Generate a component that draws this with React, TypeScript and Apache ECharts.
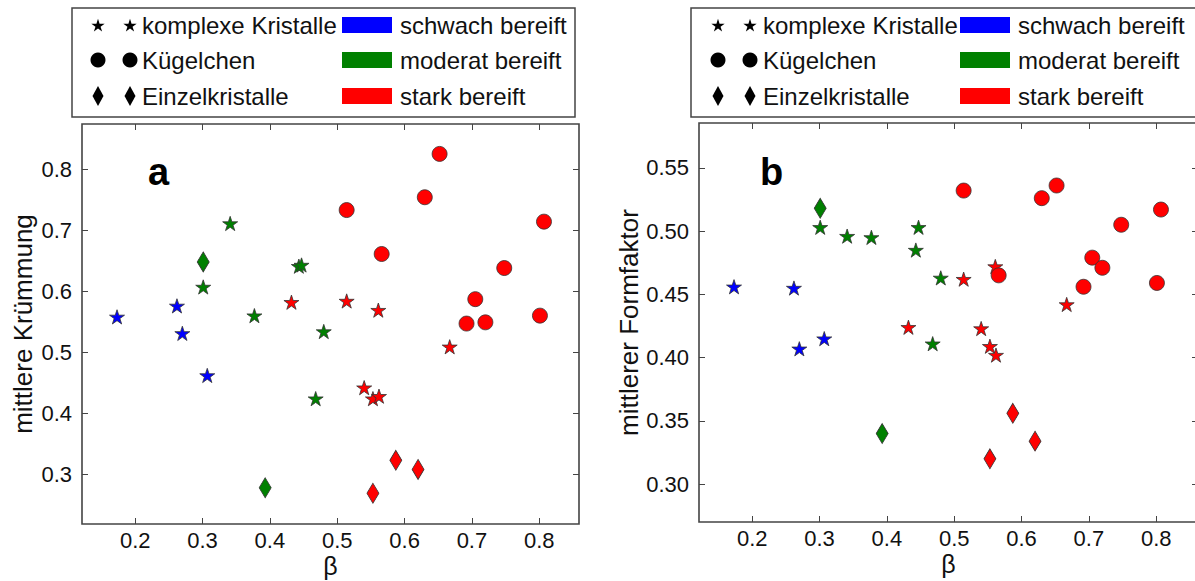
import React, { useEffect, useRef } from "react";
import * as echarts from "echarts";

// Sample groups: β with mean curvature (panel a) and mean form factor (panel b)
const blueStarBeta = [0.173, 0.262, 0.27, 0.307];
const blueStarCurv = [0.558, 0.576, 0.531, 0.462];
const blueStarForm = [0.456, 0.455, 0.407, 0.415];

const greenStarBeta = [0.301, 0.341, 0.377, 0.443, 0.447, 0.468, 0.48];
const greenStarCurv = [0.607, 0.711, 0.56, 0.641, 0.643, 0.424, 0.534];
const greenStarForm = [0.503, 0.496, 0.495, 0.485, 0.503, 0.411, 0.463];

const greenDiamondBeta = [0.301, 0.393];
const greenDiamondCurv = [0.648, 0.278];
const greenDiamondForm = [0.518, 0.34];

const redStarBeta = [0.432, 0.514, 0.54, 0.553, 0.561, 0.562, 0.667];
const redStarCurv = [0.582, 0.584, 0.442, 0.424, 0.569, 0.428, 0.509];
const redStarForm = [0.424, 0.462, 0.423, 0.409, 0.472, 0.402, 0.442];

const redDiamondBeta = [0.553, 0.587, 0.62];
const redDiamondCurv = [0.269, 0.323, 0.308];
const redDiamondForm = [0.32, 0.356, 0.334];

const redCircleBeta = [0.514, 0.566, 0.63, 0.652, 0.692, 0.705, 0.72, 0.748, 0.801, 0.807];
const redCircleCurv = [0.733, 0.661, 0.754, 0.825, 0.547, 0.587, 0.549, 0.638, 0.56, 0.714];
const redCircleForm = [0.532, 0.465, 0.526, 0.536, 0.456, 0.479, 0.471, 0.505, 0.459, 0.517];

// Tick values
const betaTicks = [0.2, 0.3, 0.4, 0.5, 0.6, 0.7, 0.8];
const curvTicks = [0.3, 0.4, 0.5, 0.6, 0.7, 0.8];
const formTicks = [0.3, 0.35, 0.4, 0.45, 0.5, 0.55];

// Legend entries
const shapeLabels = ["komplexe Kristalle", "Kügelchen", "Einzelkristalle"];
const frostLabels = ["schwach bereift", "moderat bereift", "stark bereift"];
const frostColors = ["#0000ff", "#008000", "#ff0000"];

const FONT = "'Liberation Sans', Arial, Helvetica, sans-serif";
const FRAME = "#444444";

function starPoints(cx: number, cy: number, R: number): number[][] {
  const pts: number[][] = [];
  for (let i = 0; i < 10; i++) {
    const a = -Math.PI / 2 + (i * Math.PI) / 5;
    const r = i % 2 === 0 ? R : R * 0.382;
    pts.push([cx + r * Math.cos(a), cy + r * Math.sin(a)]);
  }
  return pts;
}

const STAR_SYMBOL =
  "path://M" +
  starPoints(0, 0, 10)
    .map((p) => `${p[0].toFixed(3)} ${p[1].toFixed(3)}`)
    .join(" L") +
  " Z";

function legendGraphics(o: {
  boxX: number;
  boxW: number;
  sym1: number;
  sym2: number;
  text1: number;
  rectX: number;
  text2: number;
}) {
  const rows = [25, 60, 96];
  const els: any[] = [
    {
      type: "rect",
      shape: { x: o.boxX, y: 8, width: o.boxW, height: 109 },
      style: { fill: "#ffffff", stroke: FRAME, lineWidth: 1.5 },
      z: 10,
    },
  ];
  const symbol = (kind: number, cx: number, cy: number) => {
    if (kind === 0) {
      return { type: "polygon", shape: { points: starPoints(cx, cy + 0.8, 7) }, style: { fill: "#000" }, z: 11 };
    }
    if (kind === 1) {
      return { type: "circle", shape: { cx, cy, r: 7.5 }, style: { fill: "#000" }, z: 11 };
    }
    return {
      type: "polygon",
      shape: { points: [[cx, cy - 10], [cx + 5.5, cy], [cx, cy + 10], [cx - 5.5, cy]] },
      style: { fill: "#000" },
      z: 11,
    };
  };
  rows.forEach((cy, i) => {
    els.push(symbol(i, o.sym1, cy));
    els.push(symbol(i, o.sym2, cy));
    els.push({
      type: "text",
      x: o.text1,
      y: cy,
      style: { text: shapeLabels[i], fontSize: 24, fontFamily: FONT, fill: "#111", verticalAlign: "middle" },
      z: 11,
    });
    els.push({
      type: "rect",
      shape: { x: o.rectX, y: cy - 8, width: 50, height: 16 },
      style: { fill: frostColors[i] },
      z: 11,
    });
    els.push({
      type: "text",
      x: o.text2,
      y: cy,
      style: { text: frostLabels[i], fontSize: 24, fontFamily: FONT, fill: "#111", verticalAlign: "middle" },
      z: 11,
    });
  });
  return els;
}

function scatter(
  beta: number[],
  vals: number[],
  symbol: string,
  size: number | number[],
  color: string,
  idx: number
) {
  return {
    type: "scatter",
    xAxisIndex: idx,
    yAxisIndex: idx,
    symbol,
    symbolSize: size,
    symbolKeepAspect: true,
    itemStyle: { color, borderColor: "#333333", borderWidth: 0.8, opacity: 1 },
    emphasis: { disabled: true },
    data: beta.map((b, i) => [b, vals[i]]),
  };
}

function panelSeries(
  idx: number,
  blueStar: number[],
  greenStar: number[],
  greenDiamond: number[],
  redStar: number[],
  redDiamond: number[],
  redCircle: number[]
) {
  return [
    scatter(blueStarBeta, blueStar, STAR_SYMBOL, 15, frostColors[0], idx),
    scatter(greenStarBeta, greenStar, STAR_SYMBOL, 15, frostColors[1], idx),
    scatter(greenDiamondBeta, greenDiamond, "diamond", [12, 20], frostColors[1], idx),
    scatter(redStarBeta, redStar, STAR_SYMBOL, 15, frostColors[2], idx),
    scatter(redDiamondBeta, redDiamond, "diamond", [12, 20], frostColors[2], idx),
    scatter(redCircleBeta, redCircle, "circle", 15, frostColors[2], idx),
  ];
}

const tickStyle = (values: number[]) => ({
  show: true,
  inside: true,
  length: 6,
  lineStyle: { color: FRAME, width: 1 },
  customValues: values,
});

function xAxes(grid: number, values: number[], max: number) {
  const base = { type: "value", gridIndex: grid, min: 0.121, max, splitLine: { show: false }, axisLine: { show: false } };
  return [
    {
      ...base,
      position: "bottom",
      name: "β",
      nameLocation: "middle",
      nameGap: 29,
      nameMoveOverlap: false,
      nameTextStyle: { fontSize: 25, fontFamily: FONT, color: "#111", lineHeight: 25 },
      axisTick: tickStyle(values),
      axisLabel: {
        customValues: values,
        fontSize: 22,
        lineHeight: 22,
        fontFamily: FONT,
        color: "#111",
        margin: 5,
        formatter: (v: number) => v.toFixed(1),
      },
    },
    { ...base, position: "top", axisTick: tickStyle(values), axisLabel: { show: false } },
  ];
}

function yAxes(grid: number, min: number, max: number, values: number[], name: string, digits: number) {
  const base = { type: "value", gridIndex: grid, min, max, splitLine: { show: false }, axisLine: { show: false } };
  return [
    {
      ...base,
      position: "left",
      name,
      nameLocation: "middle",
      nameGap: digits === 1 ? 46 : 54,
      nameTextStyle: { fontSize: 26, fontFamily: FONT, color: "#111" },
      axisTick: tickStyle(values),
      axisLabel: {
        customValues: values,
        fontSize: 22,
        fontFamily: FONT,
        color: "#111",
        margin: 10,
        formatter: (v: number) => v.toFixed(digits),
      },
    },
    { ...base, position: "right", axisTick: tickStyle(values), axisLabel: { show: false } },
  ];
}

export default function App() {
  const ref = useRef<HTMLDivElement>(null);

  useEffect(() => {
    if (!ref.current) return;
    const chart = echarts.init(ref.current, undefined, { renderer: "svg" });
    const gridStyle = {
      show: true,
      borderColor: FRAME,
      borderWidth: 1.6,
      backgroundColor: "transparent",
      outerBoundsMode: "none",
    };
    chart.setOption({
      animation: false,
      backgroundColor: "#ffffff",
      grid: [
        { ...gridStyle, left: 82, top: 124, width: 497, height: 400 },
        // right-hand frame of panel b runs just past the page edge
        { ...gridStyle, left: 699, top: 123, width: 499, height: 399 },
      ],
      xAxis: [...xAxes(0, betaTicks, 0.859), ...xAxes(1, betaTicks, 0.862)],
      yAxis: [
        ...yAxes(0, 0.2186, 0.874, curvTicks, "mittlere Krümmung", 1),
        ...yAxes(1, 0.2701, 0.5854, formTicks, "mittlerer Formfaktor", 2),
      ],
      series: [
        ...panelSeries(0, blueStarCurv, greenStarCurv, greenDiamondCurv, redStarCurv, redDiamondCurv, redCircleCurv),
        ...panelSeries(2, blueStarForm, greenStarForm, greenDiamondForm, redStarForm, redDiamondForm, redCircleForm),
      ],
      graphic: [
        ...legendGraphics({ boxX: 72, boxW: 503, sym1: 98, sym2: 130, text1: 142, rectX: 342, text2: 400 }),
        ...legendGraphics({ boxX: 691, boxW: 510, sym1: 718, sym2: 750, text1: 763, rectX: 960, text2: 1018 }),
        {
          type: "text",
          x: 148,
          y: 191,
          style: { text: "a", fontSize: 38, fontWeight: "bold", fontFamily: FONT, fill: "#000", verticalAlign: "bottom" },
        },
        {
          type: "text",
          x: 760,
          y: 191,
          style: { text: "b", fontSize: 38, fontWeight: "bold", fontFamily: FONT, fill: "#000", verticalAlign: "bottom" },
        },
      ],
    });
    return () => chart.dispose();
  }, []);

  return <div ref={ref} style={{ position: "absolute", left: 0, top: 0, width: 1195, height: 581 }} />;
}
